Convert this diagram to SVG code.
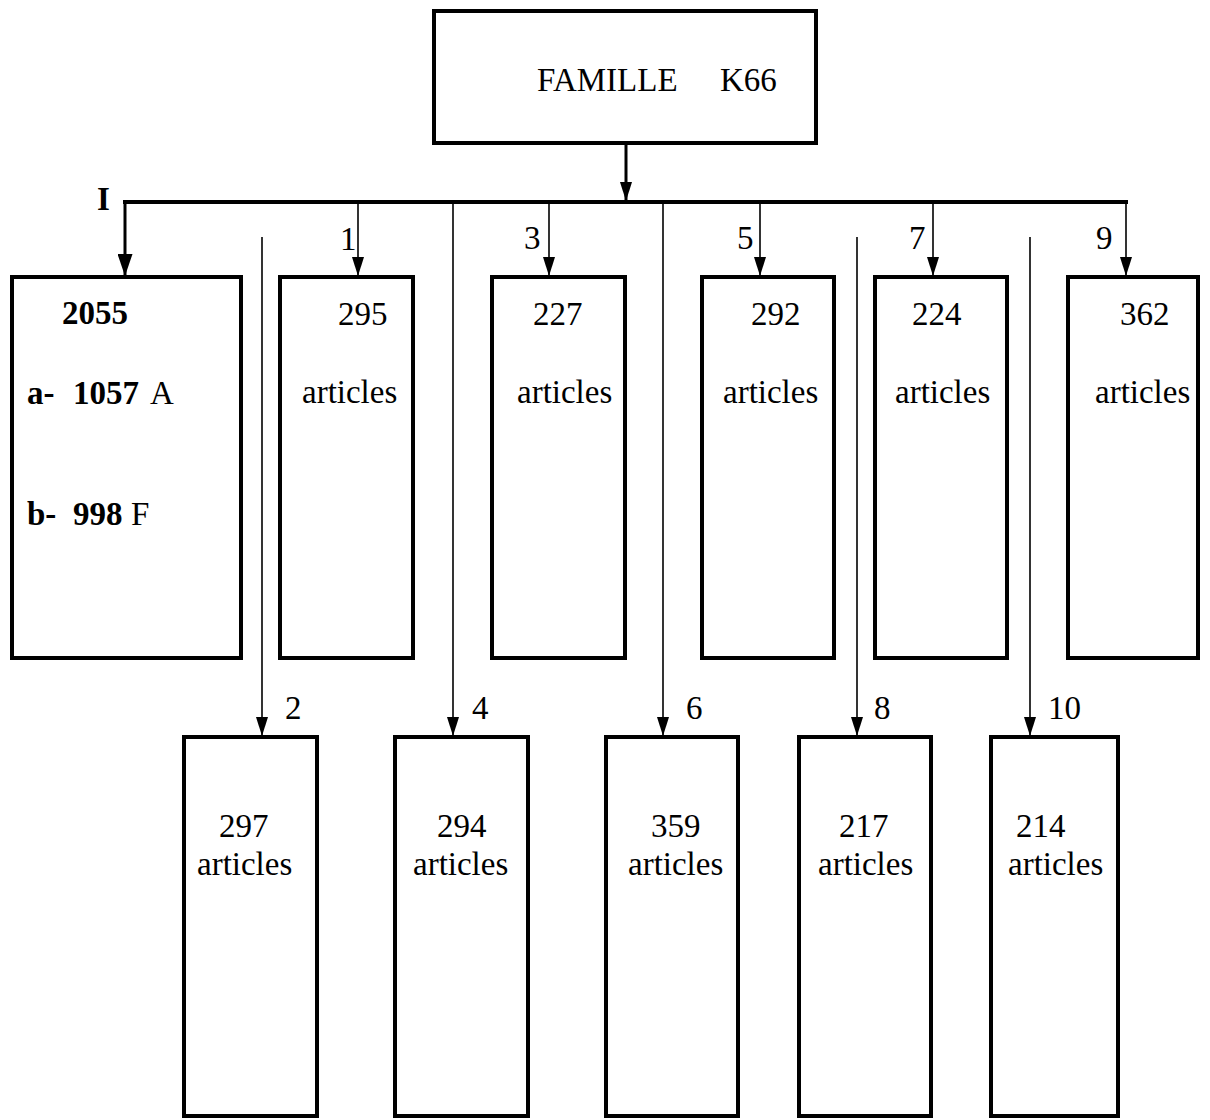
<svg xmlns="http://www.w3.org/2000/svg" width="1210" height="1120" viewBox="0 0 1210 1120">
  <defs>
    <style>
      .box { fill: #ffffff; stroke: #000000; stroke-width: 4; }
      .t { font-size: 33px; fill: #000000; }
      .b { font-weight: bold; }
      .thick { stroke: #000000; stroke-width: 3; fill: none; }
      .bus { stroke: #000000; stroke-width: 4; fill: none; }
      .thin { stroke: #000000; stroke-width: 1.6; fill: none; }
    </style>
    <marker id="headBig" markerUnits="userSpaceOnUse" markerWidth="22" markerHeight="15" refX="22" refY="7.5" orient="auto">
      <path d="M0,0 L22,7.5 L0,15 z" fill="#000000"/>
    </marker>
    <marker id="headSmall" markerUnits="userSpaceOnUse" markerWidth="19" markerHeight="12" refX="19" refY="6" orient="auto">
      <path d="M0,0 L19,6 L0,12 z" fill="#000000"/>
    </marker>
  </defs>

  <rect width="1210" height="1120" fill="#ffffff"/>

  <g font-family="'Liberation Serif', 'Times New Roman', Tinos, 'DejaVu Serif', serif">
  <!-- connectors -->
  <g id="connectors">
    <line class="thick" x1="626" y1="145" x2="626" y2="201" marker-end="url(#headSmall)"/>
    <line class="bus" x1="123" y1="202" x2="1128" y2="202"/>
    <line class="thick" x1="125" y1="202" x2="125" y2="276" marker-end="url(#headBig)"/>
    <line class="thin" x1="358" y1="202" x2="358" y2="276" marker-end="url(#headSmall)"/>
    <line class="thin" x1="549" y1="202" x2="549" y2="276" marker-end="url(#headSmall)"/>
    <line class="thin" x1="760" y1="202" x2="760" y2="276" marker-end="url(#headSmall)"/>
    <line class="thin" x1="933" y1="202" x2="933" y2="276" marker-end="url(#headSmall)"/>
    <line class="thin" x1="1126" y1="202" x2="1126" y2="276" marker-end="url(#headSmall)"/>
    <line class="thin" x1="262" y1="237" x2="262" y2="736" marker-end="url(#headSmall)"/>
    <line class="thin" x1="453" y1="202" x2="453" y2="736" marker-end="url(#headSmall)"/>
    <line class="thin" x1="663" y1="202" x2="663" y2="736" marker-end="url(#headSmall)"/>
    <line class="thin" x1="857" y1="237" x2="857" y2="736" marker-end="url(#headSmall)"/>
    <line class="thin" x1="1030" y1="237" x2="1030" y2="736" marker-end="url(#headSmall)"/>
    <!-- branch numbers -->
    <text class="t b" x="97" y="210">I</text>
    <text class="t" x="340" y="250">1</text>
    <text class="t" x="524" y="249">3</text>
    <text class="t" x="737" y="249">5</text>
    <text class="t" x="909" y="249">7</text>
    <text class="t" x="1096" y="249">9</text>
    <text class="t" x="285" y="719">2</text>
    <text class="t" x="472" y="719">4</text>
    <text class="t" x="686" y="719">6</text>
    <text class="t" x="874" y="719">8</text>
    <text class="t" x="1048" y="719">10</text>
  </g>

  <!-- root -->
  <g id="famille">
    <rect class="box" x="434" y="11" width="382" height="132"/>
    <text class="t" x="537" y="91">FAMILLE</text>
    <text class="t" x="720" y="91">K66</text>
  </g>

  <!-- first row -->
  <g id="group-i">
    <rect class="box" x="12" y="277" width="229" height="381"/>
    <text class="t b" x="62" y="324">2055</text>
    <text class="t" x="27" y="404"><tspan class="b">a-</tspan><tspan class="b" x="73">1057</tspan><tspan x="150">A</tspan></text>
    <text class="t" x="27" y="525"><tspan class="b">b-</tspan><tspan class="b" x="73">998</tspan><tspan x="131">F</tspan></text>
  </g>
  <g id="node-1">
    <rect class="box" x="280" y="277" width="133" height="381"/>
    <text class="t" x="338" y="325">295</text>
    <text class="t" x="302" y="403">articles</text>
  </g>
  <g id="node-3">
    <rect class="box" x="492" y="277" width="133" height="381"/>
    <text class="t" x="533" y="325">227</text>
    <text class="t" x="517" y="403">articles</text>
  </g>
  <g id="node-5">
    <rect class="box" x="702" y="277" width="132" height="381"/>
    <text class="t" x="751" y="325">292</text>
    <text class="t" x="723" y="403">articles</text>
  </g>
  <g id="node-7">
    <rect class="box" x="875" y="277" width="132" height="381"/>
    <text class="t" x="912" y="325">224</text>
    <text class="t" x="895" y="403">articles</text>
  </g>
  <g id="node-9">
    <rect class="box" x="1068" y="277" width="130" height="381"/>
    <text class="t" x="1120" y="325">362</text>
    <text class="t" x="1095" y="403">articles</text>
  </g>

  <!-- second row -->
  <g id="node-2">
    <rect class="box" x="184" y="737" width="133" height="379"/>
    <text class="t" x="219" y="837">297</text>
    <text class="t" x="197" y="875">articles</text>
  </g>
  <g id="node-4">
    <rect class="box" x="395" y="737" width="133" height="379"/>
    <text class="t" x="437" y="837">294</text>
    <text class="t" x="413" y="875">articles</text>
  </g>
  <g id="node-6">
    <rect class="box" x="606" y="737" width="132" height="379"/>
    <text class="t" x="651" y="837">359</text>
    <text class="t" x="628" y="875">articles</text>
  </g>
  <g id="node-8">
    <rect class="box" x="799" y="737" width="132" height="379"/>
    <text class="t" x="839" y="837">217</text>
    <text class="t" x="818" y="875">articles</text>
  </g>
  <g id="node-10">
    <rect class="box" x="991" y="737" width="127" height="379"/>
    <text class="t" x="1016" y="837">214</text>
    <text class="t" x="1008" y="875">articles</text>
  </g>
  </g>
</svg>
